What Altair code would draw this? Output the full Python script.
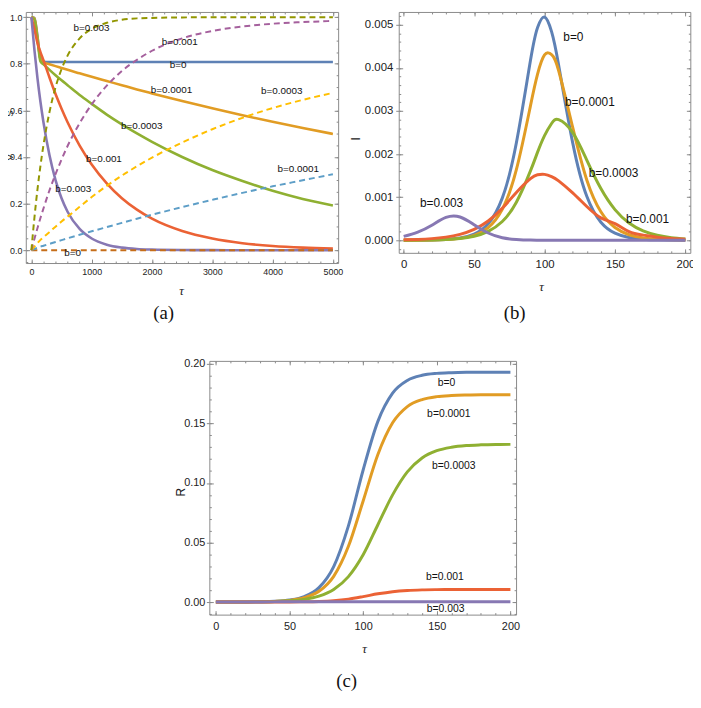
import altair as alt
import pandas as pd

# ---------------- Panel (a): S (solid) and V (dashed) vs tau ----------------
tau_a = [0, 50, 100, 150, 200, 300, 400, 500, 600, 800, 1000, 1250, 1500, 1750, 2000,
         2500, 3000, 3500, 4000, 4500, 5000]
S_b0 = [1.0, 0.997, 0.92, 0.822, 0.809, 0.808, 0.808, 0.808, 0.808, 0.808, 0.808, 0.808,
        0.808, 0.808, 0.808, 0.808, 0.808, 0.808, 0.808, 0.808, 0.808]
S_b1e4 = [1.0, 0.995, 0.915, 0.82, 0.806, 0.798, 0.790, 0.782, 0.774, 0.759, 0.744, 0.726,
          0.708, 0.690, 0.673, 0.640, 0.609, 0.579, 0.551, 0.524, 0.499]
S_b3e4 = [1.0, 0.99, 0.905, 0.81, 0.798, 0.774, 0.751, 0.729, 0.708, 0.666, 0.628, 0.582,
          0.540, 0.501, 0.465, 0.400, 0.344, 0.297, 0.255, 0.220, 0.192]
S_b1e3 = [1.0, 0.95, 0.89, 0.85, 0.815, 0.741, 0.670, 0.607, 0.549, 0.449, 0.368, 0.287,
          0.223, 0.174, 0.135, 0.082, 0.050, 0.030, 0.018, 0.011, 0.007]
S_b3e3 = [1.0, 0.86, 0.74, 0.637, 0.549, 0.407, 0.301, 0.223, 0.165, 0.091, 0.050, 0.0235,
          0.011, 0.005, 0.0025, 0.0006, 0.0001, 0.0, 0.0, 0.0, 0.0]
V_b0 = [0.0, 0.0, 0.0, 0.0, 0.0, 0.0, 0.0, 0.0, 0.0, 0.0, 0.0, 0.0, 0.0, 0.0, 0.0, 0.0,
        0.0, 0.0, 0.0, 0.0, 0.0]
V_b1e4 = [0.0, 0.005, 0.01, 0.015, 0.019, 0.027, 0.035, 0.043, 0.051, 0.066, 0.081, 0.099,
          0.117, 0.135, 0.152, 0.185, 0.216, 0.246, 0.274, 0.300, 0.326]
V_b3e4 = [0.0, 0.015, 0.03, 0.044, 0.056, 0.078, 0.101, 0.123, 0.144, 0.186, 0.228, 0.276,
          0.320, 0.360, 0.397, 0.462, 0.519, 0.568, 0.610, 0.645, 0.675]
V_b1e3 = [0.0, 0.048, 0.094, 0.138, 0.179, 0.257, 0.326, 0.389, 0.447, 0.545, 0.626, 0.706,
          0.769, 0.817, 0.856, 0.909, 0.941, 0.960, 0.972, 0.979, 0.984]
V_b3e3 = [0.0, 0.139, 0.259, 0.362, 0.451, 0.593, 0.699, 0.777, 0.835, 0.909, 0.950, 0.976,
          0.989, 0.995, 0.997, 0.999, 1.0, 1.0, 1.0, 1.0, 1.0]

lab_a_text = ["b=0.003", "b=0.001", "b=0", "b=0.0001", "b=0.0003", "b=0.0003", "b=0.001",
              "b=0.003", "b=0.0001", "b=0"]
lab_a_x = [995, 2459, 2432, 2322, 4153, 1831, 1202, 694, 4426, 683]
lab_a_y = [0.955, 0.894, 0.795, 0.686, 0.685, 0.533, 0.392, 0.262, 0.349, -0.014]

# ---------------- Panel (b): I vs tau ----------------
tau_b = [0, 10, 20, 30, 40, 50, 60, 70, 80, 90, 95, 100, 105, 110, 120, 130, 140, 150,
         160, 170, 180, 190, 200]
I_b0 = [0.000001, 0.000003, 0.000007, 0.00002, 0.000054, 0.000145, 0.000384, 0.000979,
        0.00226, 0.00417, 0.00493, 0.00518, 0.00484, 0.00407, 0.00226, 0.00102, 0.00042,
        0.000166, 0.000065, 0.000025, 0.00001, 0.000004, 0.000001]
I_b1e4 = [0.000001, 0.000003, 0.000007, 0.000018, 0.000045, 0.000116, 0.000296, 0.000722,
          0.00164, 0.00312, 0.00385, 0.0043, 0.00431, 0.00394, 0.00262, 0.0014, 0.000661,
          0.000296, 0.000129, 0.000056, 0.000024, 0.00001, 0.000004]
I_b3e4 = [0.000002, 0.000004, 0.000009, 0.000019, 0.000043, 0.000094, 0.000206, 0.000437,
          0.000883, 0.00161, 0.00204, 0.00243, 0.00271, 0.0028, 0.0025, 0.00186, 0.0012,
          0.000713, 0.0004, 0.000217, 0.000116, 0.000062, 0.000032]
I_b1e3 = [0.000011, 0.000021, 0.000039, 0.000074, 0.000138, 0.000253, 0.000447, 0.000742,
          0.00111, 0.00143, 0.00152, 0.00153, 0.00148, 0.00138, 0.0011, 0.000783, 0.00052,
          0.000387, 0.0002, 0.00012, 0.000071, 0.000042, 0.000025]
I_b3e3 = [0.00009, 0.00019, 0.00035, 0.00053, 0.00054, 0.00036, 0.00017, 0.00006, 0.00002,
          0.000005, 0.000003, 0.000002, 0.000001, 0.000001, 0.0, 0.0, 0.0, 0.0, 0.0, 0.0,
          0.0, 0.0, 0.0]

lab_b_text = ["b=0", "b=0.0001", "b=0.0003", "b=0.001", "b=0.003"]
lab_b_x = [120.5, 132.2, 149, 173.1, 26.9]
lab_b_y = [0.00472, 0.0032, 0.00157, 0.00049, 0.000856]

# ---------------- Panel (c): R vs tau ----------------
tau_c = [0, 10, 20, 30, 40, 50, 60, 70, 80, 90, 100, 110, 120, 130, 140, 150, 160, 170,
         180, 190, 200]
R_b0 = [0.000012, 0.000032, 0.000087, 0.000237, 0.00064, 0.00174, 0.00466, 0.01215, 0.0298,
        0.064, 0.1109, 0.1517, 0.1754, 0.1861, 0.1904, 0.1920, 0.1926, 0.1929, 0.193, 0.193,
        0.193]
R_b1e4 = [0.000012, 0.000031, 0.000082, 0.00021, 0.000545, 0.00141, 0.0036, 0.00903, 0.0216,
          0.0468, 0.0849, 0.1239, 0.1505, 0.1641, 0.170, 0.1725, 0.1734, 0.1738, 0.174,
          0.174, 0.174]
R_b3e4 = [0.000019, 0.000043, 0.000095, 0.000211, 0.000465, 0.00103, 0.00227, 0.00495,
          0.01053, 0.02135, 0.0397, 0.0649, 0.09, 0.1093, 0.121, 0.1271, 0.130, 0.1314,
          0.132, 0.1323, 0.1324]
R_b1e3 = [0.0, 0.000001, 0.000003, 0.000008, 0.00002, 0.000086, 0.000208, 0.000503, 0.001167,
          0.00249, 0.00458, 0.00693, 0.00874, 0.00976, 0.01025, 0.01045, 0.01053, 0.01057,
          0.01059, 0.0106, 0.0106]
R_b3e3 = [0.0, 0.00002, 0.00006, 0.00011, 0.00016, 0.0002, 0.00022, 0.00023, 0.00023,
          0.00023, 0.00023, 0.00023, 0.00023, 0.00023, 0.00023, 0.00023, 0.00023, 0.00023,
          0.00023, 0.00023, 0.00023]

lab_c_text = ["b=0", "b=0.0001", "b=0.0003", "b=0.001", "b=0.003"]
lab_c_x = [156.6, 158.2, 161.5, 155.5, 156]
lab_c_y = [0.184, 0.1577, 0.1143, 0.0213, -0.0055]

# ---------------- styling ----------------
W, H = 693, 686
SOLID = ["#5E81B5", "#E19C24", "#8FB032", "#EB6235", "#8778B3"]
DASHED = ["#C56E1A", "#5D9EC7", "#FFBF00", "#A5609D", "#929600"]
FRAME = "#8a8a8a"
NARROW = "Liberation Sans Narrow, Arial Narrow, sans-serif"
SERIF = "Liberation Serif, DejaVu Serif, serif"


def frange(a, b, step):
    out = []
    k = 0
    while True:
        v = round(a + k * step, 10)
        if v > b + 1e-12:
            break
        out.append(v)
        k += 1
    return out


def panel(curves, labels, lab_size, tick_size, xdom, xrng, ydom, yrng, frame, xmaj, xmin,
          ymaj, ymin, xfmt, yfmt, xtitle_pos, ytitle, ytitle_size, ytitle_pos, caption,
          caption_pos, xlabpad, ylabpad, interp, xflush=False):
    left, right, top, bottom = frame
    xs = alt.Scale(domain=xdom, range=xrng, nice=False, zero=False)
    ys = alt.Scale(domain=ydom, range=yrng, nice=False, zero=False)
    layers = []
    for (t, v, color, dashed, width) in curves:
        df = pd.DataFrame({"t": t, "v": v})
        mk = dict(color=color, strokeWidth=width, interpolate=interp)
        if dashed:
            mk["strokeDash"] = [6, 4]
        layers.append(alt.Chart(df).mark_line(**mk).encode(
            x=alt.X("t:Q", scale=xs, axis=None),
            y=alt.Y("v:Q", scale=ys, axis=None)))
    ltext, lx, ly = labels
    ldf = pd.DataFrame({"t": lx, "v": ly, "txt": ltext})
    layers.append(alt.Chart(ldf).mark_text(font=NARROW, fontSize=lab_size, color="#111").encode(
        x=alt.X("t:Q", scale=xs, axis=None),
        y=alt.Y("v:Q", scale=ys, axis=None),
        text="txt:N"))

    base_df = pd.DataFrame({"t": [xdom[0]], "v": [ydom[0]]})
    common = dict(grid=False, tickColor=FRAME, tickWidth=1, domainColor=FRAME,
                  domainWidth=1, labelFont=NARROW, labelFontSize=tick_size,
                  labelColor="#222", labelOverlap=False)

    def ax_layer(xaxis, yaxis):
        return alt.Chart(base_df).mark_point(opacity=0, size=1).encode(
            x=alt.X("t:Q", scale=xs, axis=xaxis),
            y=alt.Y("v:Q", scale=ys, axis=yaxis))

    ob = -(H - bottom)
    ol = -left
    ot = -top
    orr = -(W - right)
    # labelled major ticks (inward)
    xa = alt.Axis(orient="bottom", offset=ob - 4, values=xmaj, tickSize=4, domain=False,
                  labels=True, format=xfmt, labelPadding=xlabpad, labelFlush=xflush,
                  title="τ",
                  titleX=xtitle_pos[0], titleY=xtitle_pos[1] - (bottom - 4),
                  titleFont=SERIF, titleFontStyle="italic", titleFontWeight="normal",
                  titleFontSize=13, titleColor="#222", titleBaseline="middle",
                  titleAlign="center", **common)
    ya = alt.Axis(orient="left", offset=ol - 4, values=ymaj, tickSize=4, domain=False,
                  labels=True, format=yfmt, labelPadding=ylabpad, labelFlush=False,
                  title=ytitle,
                  titleX=ytitle_pos[0] - (left + 4), titleY=ytitle_pos[1],
                  titleFont=NARROW, titleFontWeight="normal", titleFontSize=ytitle_size,
                  titleColor="#222", titleBaseline="middle", titleAlign="center", **common)
    layers.append(ax_layer(xa, ya))
    # short outward major ticks on the left frame
    layers.append(ax_layer(
        None,
        alt.Axis(orient="left", offset=ol, values=ymaj, tickSize=3, domain=False,
                 labels=False, title=None, **common)))
    # minor ticks bottom/left
    layers.append(ax_layer(
        alt.Axis(orient="bottom", offset=ob - 2, values=xmin, tickSize=2, domain=False,
                 labels=False, title=None, **common),
        alt.Axis(orient="left", offset=ol - 2, values=ymin, tickSize=2, domain=False,
                 labels=False, title=None, **common)))
    # major ticks top/right
    layers.append(ax_layer(
        alt.Axis(orient="top", offset=ot - 4, values=xmaj, tickSize=4, domain=False,
                 labels=False, title=None, **common),
        alt.Axis(orient="right", offset=orr - 4, values=ymaj, tickSize=4, domain=False,
                 labels=False, title=None, **common)))
    # minor ticks top/right
    layers.append(ax_layer(
        alt.Axis(orient="top", offset=ot - 2, values=xmin, tickSize=2, domain=False,
                 labels=False, title=None, **common),
        alt.Axis(orient="right", offset=orr - 2, values=ymin, tickSize=2, domain=False,
                 labels=False, title=None, **common)))
    # frame bottom/left (+ caption)
    layers.append(ax_layer(
        alt.Axis(orient="bottom", offset=ob, ticks=False, labels=False, domain=True,
                 title=caption, titleX=caption_pos[0], titleY=caption_pos[1] - bottom,
                 titleFont=SERIF, titleFontSize=19, titleFontWeight="normal",
                 titleColor="#111", titleBaseline="middle", titleAlign="center", **common),
        alt.Axis(orient="left", offset=ol, ticks=False, labels=False, domain=True,
                 title=None, **common)))
    # frame top/right
    layers.append(ax_layer(
        alt.Axis(orient="top", offset=ot, ticks=False, labels=False, domain=True,
                 title=None, **common),
        alt.Axis(orient="right", offset=orr, ticks=False, labels=False, domain=True,
                 title=None, **common)))
    return alt.layer(*layers).resolve_axis(x="independent", y="independent")


curves_a = [
    (tau_a, S_b0, SOLID[0], False, 2.6),
    (tau_a, S_b1e4, SOLID[1], False, 2.6),
    (tau_a, S_b3e4, SOLID[2], False, 2.6),
    (tau_a, S_b1e3, SOLID[3], False, 2.6),
    (tau_a, S_b3e3, SOLID[4], False, 2.6),
    (tau_a, V_b0, DASHED[0], True, 2),
    (tau_a, V_b1e4, DASHED[1], True, 2),
    (tau_a, V_b3e4, DASHED[2], True, 2),
    (tau_a, V_b1e3, DASHED[3], True, 2),
    (tau_a, V_b3e3, DASHED[4], True, 2),
]
pa = panel(curves_a, (lab_a_text, lab_a_x, lab_a_y), 10, 9,
           [-93.0, 5087.0], [18, 334], [-0.0552, 1.0225], [254, 0],
           (18, 334, 0, 254),
           frange(0, 5000, 1000), frange(0, 5000, 200),
           frange(0, 1.0, 0.2), frange(-0.05, 1.0, 0.05),
           "d", ".1f", (175, 282), "V\u2003\u2003\u2003\u2003S", 9.5, (1.5, 124.5),
           "(a)", (157, 304), 5, 4, "monotone")

curves_b = [
    (tau_b, I_b0, SOLID[0], False, 3),
    (tau_b, I_b1e4, SOLID[1], False, 3),
    (tau_b, I_b3e4, SOLID[2], False, 3),
    (tau_b, I_b1e3, SOLID[3], False, 3),
    (tau_b, I_b3e3, SOLID[4], False, 3),
]
pb = panel(curves_b, (lab_b_text, lab_b_x, lab_b_y), 12, 11.5,
           [-3.51, 203.51], [395.3, 690.3], [-0.000291, 0.005298], [243.7, 0],
           (395.3, 690.3, 0, 243.7),
           frange(0, 200, 50), frange(0, 200, 10),
           frange(0, 0.005, 0.001), frange(-0.0002, 0.0052, 0.0002),
           "d", ".3f", (539.3, 278), "I", 12, (351.3, 128),
           "(b)", (512, 304), 6, 6, "natural", xflush=True)

curves_c = [
    (tau_c, R_b0, SOLID[0], False, 3),
    (tau_c, R_b1e4, SOLID[1], False, 3),
    (tau_c, R_b3e4, SOLID[2], False, 3),
    (tau_c, R_b1e3, SOLID[3], False, 3),
    (tau_c, R_b3e3, SOLID[4], False, 3),
]
pc = panel(curves_c, (lab_c_text, lab_c_x, lab_c_y), 10.5, 11,
           [-4.43, 203.83], [203.7, 514], [-0.01054, 0.2025], [609.7, 353],
           (203.7, 514, 353, 609.7),
           frange(0, 200, 50), frange(0, 200, 10),
           frange(0, 0.2, 0.05), frange(-0.01, 0.2, 0.01),
           "d", ".2f", (360.3, 643.7), "R", 12, (174.7, 485.3),
           "(c)", (342, 676), 6, 4.5, "monotone")

chart = alt.layer(pa, pb, pc).resolve_scale(
    x="independent", y="independent"
).properties(
    width=W, height=H, padding=0, background="white",
    autosize=alt.AutoSizeParams(type="none"),
).configure_view(stroke=None)

chart.save("out.html", embed_options={"renderer": "svg", "actions": False})
